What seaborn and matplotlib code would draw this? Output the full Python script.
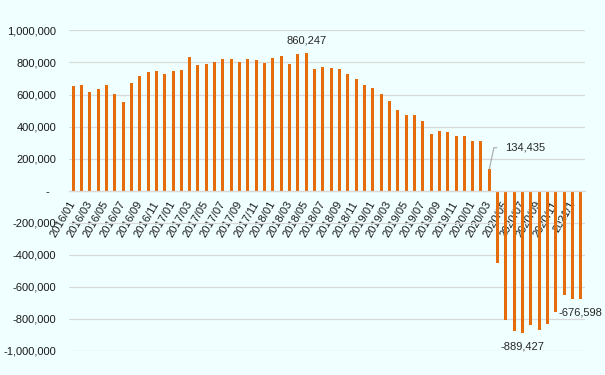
import pandas as pd
import matplotlib
import matplotlib.pyplot as plt
import seaborn as sns

matplotlib.use("Agg")

# Monthly values, 2016/01 - 2021/02
months = list(pd.date_range("2016-01-01", periods=62, freq="MS").strftime("%Y/%m"))
values = [
    652000, 658000, 615000, 633000, 658000, 602000, 552000, 671000, 715000, 740000, 746000, 727000,
    746000, 752000, 833000, 783000, 790000, 802000, 821000, 821000, 802000, 821000, 815000, 796000,
    827000, 840000, 790000, 852000, 860247, 760000, 771000, 765000, 758000, 727000, 696000, 658000,
    642000, 602000, 558000, 502000, 471000, 471000, 437000, 356000, 375000, 369000, 344000, 344000,
    312000, 312000, 134435, -454000, -806000, -873000, -889427, -837000, -867000, -829000, -754000, -648000,
    -673000, -676598,
]
tick_labels = [
    "2016/01", "2016/03", "2016/05", "2016/07", "2016/09", "2016/11",
    "2017/01", "2017/03", "2017/05", "2017/07", "2017/09", "2017/11",
    "2018/01", "2018/03", "2018/05", "2018/07", "2018/09", "2018/11",
    "2019/01", "2019/03", "2019/05", "2019/07", "2019/09", "2019/11",
    "2020/01", "2020/03", "2020/05", "2020/07", "2020/09", "2020/11",
    "2021/1",
]
# labelled bars: month -> (offset in points, vertical alignment)
labelled = {"2018/05": (5, "bottom"), "2020/07": (-6, "top"), "2021/02": (-6, "top")}

bg = "#F0FFFF"
bar_color = "#E46C0A"
grid_color = "#D9D9D9"

sns.set_style("white")
plt.rcParams["font.family"] = ["Liberation Sans", "DejaVu Sans"]

df = pd.DataFrame({"month": months, "value": values})

fig = plt.figure(figsize=(6.05, 3.75), dpi=100, facecolor=bg)
ax = fig.add_axes([0.114, 0.064, 0.853, 0.855], facecolor=bg)

sns.barplot(data=df, x="month", y="value", color=bar_color, saturation=1,
            width=0.36, linewidth=0, edgecolor=bar_color, ax=ax)

ax.set_ylim(-1000000, 1000000)
ax.set_xlim(-0.5, len(months) - 0.5)
ax.set_yticks(range(-1000000, 1000001, 200000))
ax.yaxis.set_major_formatter(
    matplotlib.ticker.FuncFormatter(lambda v, p: "-  " if v == 0 else f"{v:,.0f}"))
ax.yaxis.grid(True, color=grid_color, lw=0.9)
ax.set_axisbelow(True)

for s in ["top", "right", "left"]:
    ax.spines[s].set_visible(False)
ax.spines["bottom"].set_position(("data", 0))
ax.spines["bottom"].set_color(grid_color)
ax.spines["bottom"].set_linewidth(0.9)

ax.set_xticks(range(0, len(months), 2))
ax.set_xticklabels(tick_labels, rotation=60, ha="right", va="center",
                   rotation_mode="anchor")
ax.tick_params(axis="x", length=0, pad=8, labelsize=8, labelcolor="#1a1a1a")
ax.tick_params(axis="y", length=0, pad=9, labelsize=8, labelcolor="#1a1a1a")
ax.set_xlabel("")
ax.set_ylabel("")

for m, (off, va) in labelled.items():
    i = months.index(m)
    ax.annotate(f"{values[i]:,}", (i, values[i]), xytext=(0, off),
                textcoords="offset points", ha="center", va=va, fontsize=8)

# label with leader line
i = months.index("2020/03")
ax.annotate(f"{values[i]:,}", (i, values[i]), xytext=(11.7, 15.4),
            textcoords="offset points", ha="left", va="center", fontsize=8,
            arrowprops=dict(arrowstyle="-", color="#A6A6A6", lw=0.8,
                            connectionstyle="angle,angleA=0,angleB=78,rad=0",
                            relpos=(0, 0.5), shrinkA=4, shrinkB=0))

fig.savefig("out.png", dpi=100, facecolor=bg)
